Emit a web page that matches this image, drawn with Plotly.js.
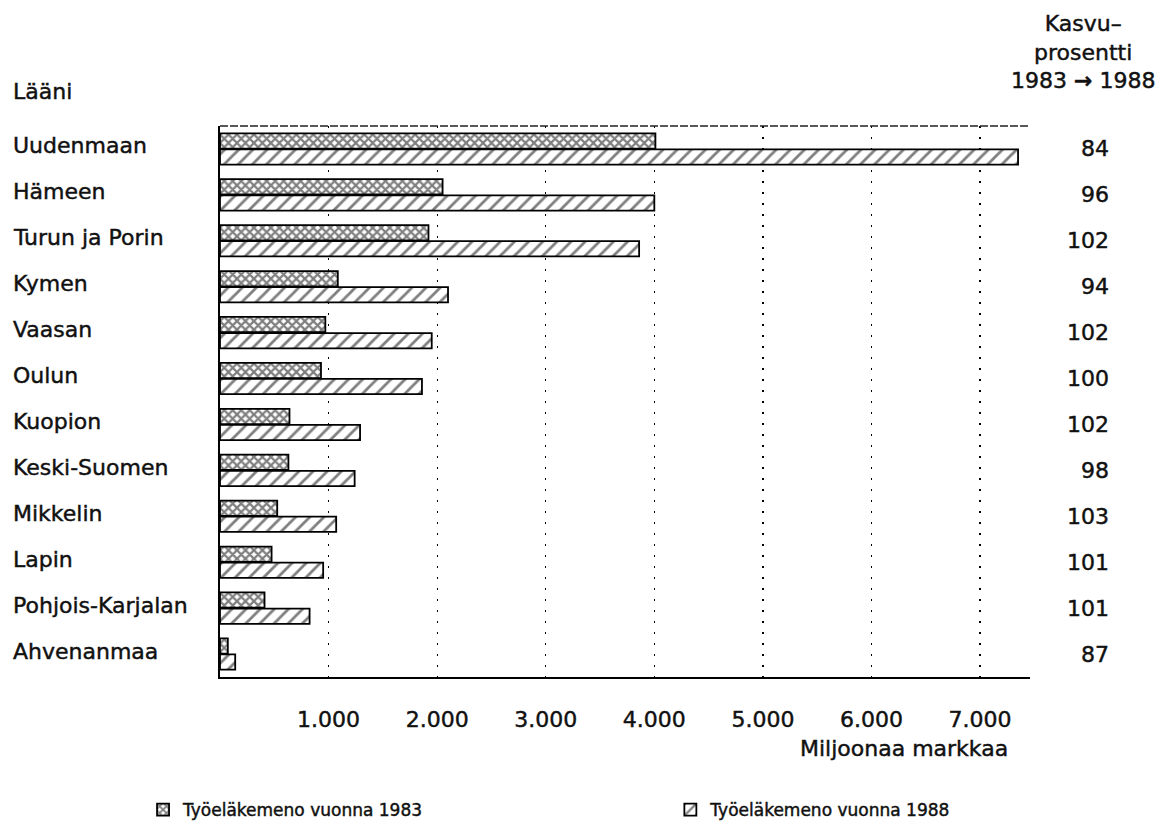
<!DOCTYPE html>
<html>
<head>
<meta charset="utf-8">
<script src="https://cdn.plot.ly/plotly-3.0.1.min.js"></script>
<style>html,body{margin:0;padding:0;background:#fff;}#chart{width:1169px;height:836px;}
#chart text{stroke:#111;stroke-width:0.45px;}</style>
</head>
<body>
<div id="chart"></div>
<script>
const regions = ["Uudenmaan","Hämeen","Turun ja Porin","Kymen","Vaasan","Oulun","Kuopion","Keski-Suomen","Mikkelin","Lapin","Pohjois-Karjalan","Ahvenanmaa"];
const spend1983 = [4010,2050,1920,1085,970,930,640,630,527,475,410,72];
const spend1988 = [7350,4000,3860,2100,1950,1860,1290,1240,1070,950,825,140];
const growthPct = ["84","96","102","94","102","100","102","98","103","101","101","87"];
const tickVals = [1000,2000,3000,4000,5000,6000,7000];
const tickLabels = ["1.000","2.000","3.000","4.000","5.000","6.000","7.000"];
const seriesNames = ["Työeläkemeno vuonna 1983","Työeläkemeno vuonna 1988"];

const FONT = "DejaVu Sans, sans-serif";
const FS = 22;
const INK = '#111';

const traces = [
  {type:'bar', orientation:'h', name:seriesNames[0], y:regions, x:spend1983, legend:'legend',
   marker:{color:'white', line:{color:'black', width:1.8},
     pattern:{shape:'x', fgcolor:'black', bgcolor:'white', size:6, solidity:0.6, fillmode:'overlay'}}},
  {type:'bar', orientation:'h', name:seriesNames[1], y:regions, x:spend1988, legend:'legend2',
   marker:{color:'white', line:{color:'black', width:1.8},
     pattern:{shape:'/', fgcolor:'black', bgcolor:'white', size:10, solidity:0.28, fillmode:'overlay'}}}
];

const annotations = [];
regions.forEach((r,i)=>{
  annotations.push({xref:'paper', yref:'y', x:-0.258, y:r, yshift:3, text:r, showarrow:false, xanchor:'left', yanchor:'middle', font:{family:FONT, size:FS, color:INK}});
  annotations.push({xref:'paper', yref:'y', x:1.1, y:r, text:growthPct[i], showarrow:false, xanchor:'right', yanchor:'middle', font:{family:FONT, size:FS, color:INK}});
});
annotations.push({xref:'paper', yref:'paper', x:-0.258, y:1.062, text:'Lääni', showarrow:false, xanchor:'left', yanchor:'middle', font:{family:FONT, size:FS, color:INK}});
annotations.push({xref:'paper', yref:'paper', x:1.066, y:1.134, text:'Kasvu–<br>prosentti<br>1983 <b>→</b> 1988', showarrow:false, xanchor:'center', yanchor:'middle', align:'center', font:{family:FONT, size:FS, color:INK}});
annotations.push({xref:'paper', yref:'paper', x:0.975, y:-0.129, text:'Miljoonaa markkaa', showarrow:false, xanchor:'right', yanchor:'middle', font:{family:FONT, size:FS, color:INK}});

const legendBase = {orientation:'h', yref:'container', y:0.031, xanchor:'left', yanchor:'middle', font:{family:FONT, size:17, color:INK}, bgcolor:'rgba(0,0,0,0)'};

const layout = {
  width:1169, height:836,
  paper_bgcolor:'white', plot_bgcolor:'white',
  margin:{l:220, r:139, t:126, b:159},
  barmode:'group', bargap:0.3, bargroupgap:0.05,
  font:{family:FONT, size:FS, color:INK},
  showlegend:true,
  legend:Object.assign({x:-0.095}, legendBase),
  legend2:Object.assign({x:0.556}, legendBase),
  xaxis:{range:[0,7460], tickvals:tickVals, ticktext:tickLabels, showgrid:true, gridcolor:'black', griddash:'2px,9px', gridwidth:1.2,
    showline:true, linecolor:'black', linewidth:2, ticks:'', zeroline:false, tickfont:{family:FONT, size:FS, color:INK}, ticklabelstandoff:22},
  yaxis:{type:'category', categoryorder:'array', categoryarray:regions, range:[11.5,-0.5], showticklabels:false, showgrid:false,
    showline:true, linecolor:'black', linewidth:2, ticks:'', zeroline:false},
  shapes:[{type:'line', xref:'paper', yref:'paper', x0:0, x1:1, y0:1, y1:1, line:{color:'#222', width:1.4, dash:'8px,2px'}}],
  annotations:annotations
};

Plotly.newPlot('chart', traces, layout, {displayModeBar:false, staticPlot:true});
</script>
</body>
</html>
